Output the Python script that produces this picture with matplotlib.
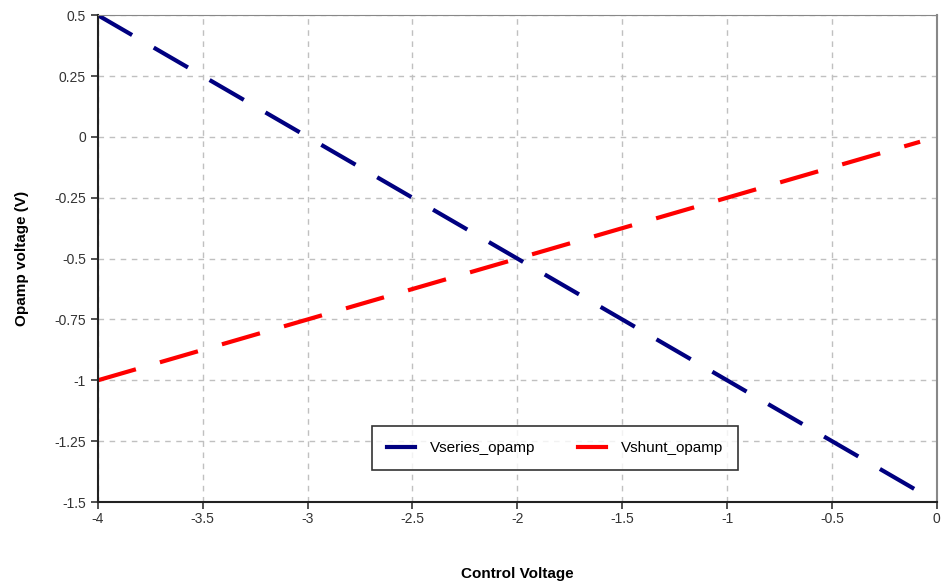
import matplotlib
matplotlib.use('Agg')
import matplotlib.pyplot as plt

plt.rcParams['font.family'] = ['Liberation Sans', 'DejaVu Sans']

# control voltage samples
control = [-4.0, -3.5, -3.0, -2.5, -2.0, -1.5, -1.0, -0.5, 0.0]
vseries = [0.5, 0.25, 0.0, -0.25, -0.5, -0.75, -1.0, -1.25, -1.5]
control_shunt = [-4.0, -3.5, -3.0, -2.5, -2.0, -1.5, -1.0, -0.5, -0.08]
vshunt = [-1.0, -0.875, -0.75, -0.625, -0.5, -0.375, -0.25, -0.125, -0.02]

xticks = [-4, -3.5, -3, -2.5, -2, -1.5, -1, -0.5, 0]
xticklabels = ['-4', '-3.5', '-3', '-2.5', '-2', '-1.5', '-1', '-0.5', '0']
yticks = [0.5, 0.25, 0, -0.25, -0.5, -0.75, -1, -1.25, -1.5]
yticklabels = ['0.5', '0.25', '0', '-0.25', '-0.5', '-0.75', '-1', '-1.25', '-1.5']

fig = plt.figure(figsize=(9.41, 5.84), dpi=100)
ax = fig.add_axes([0.104, 0.1404, 0.8916, 0.8336])

ax.plot(control, vseries, color='#000080', lw=3, dashes=(9.5, 6), label='Vseries_opamp')
ax.plot(control_shunt, vshunt, color='#ff0000', lw=3, dashes=(9.5, 6), label='Vshunt_opamp')

ax.set_xlim(-4, 0)
ax.set_ylim(-1.5, 0.5)
ax.set_xticks(xticks)
ax.set_xticklabels(xticklabels)
ax.set_yticks(yticks)
ax.set_yticklabels(yticklabels)
ax.tick_params(axis='both', labelsize=10, colors='#333333', length=5, width=1.2, direction='out')
ax.tick_params(axis='x', pad=2)
ax.grid(True, color='#c0c0c0', linestyle=(0, (4, 4)), lw=1)

ax.spines['left'].set_color('#222222')
ax.spines['left'].set_linewidth(1.5)
ax.spines['bottom'].set_color('#222222')
ax.spines['bottom'].set_linewidth(1.5)
ax.spines['top'].set_color('#888888')
ax.spines['right'].set_color('#888888')
ax.spines['right'].set_linewidth(1.5)

ax.set_xlabel('Control Voltage', fontsize=11, fontweight='bold', labelpad=30)
ax.set_ylabel('Opamp voltage (V)', fontsize=11, fontweight='bold', labelpad=18)

leg = ax.legend(loc='center', bbox_to_anchor=(0.545, 0.111), ncol=2, fontsize=11,
                frameon=True, fancybox=False, edgecolor='black', handlelength=1.8,
                handletextpad=1.0, columnspacing=2.8, borderpad=1.0)
leg.get_frame().set_linewidth(1.2)
for h in leg.get_lines():
    h.set_linestyle('-')

fig.savefig('out.png', dpi=100)
